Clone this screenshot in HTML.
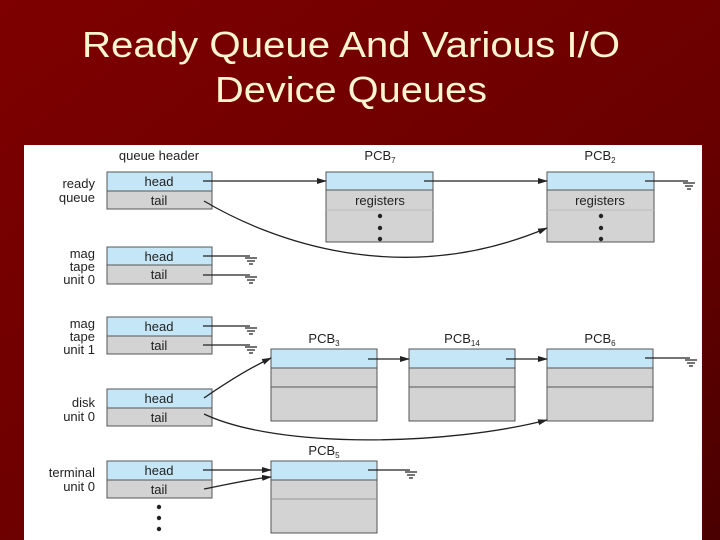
<!DOCTYPE html>
<html><head><meta charset="utf-8"><style>
html,body{margin:0;padding:0;width:720px;height:540px;overflow:hidden;background:#6e0000}
svg{display:block}
</style></head><body>
<svg width="720" height="540" viewBox="0 0 720 540" xmlns="http://www.w3.org/2000/svg" font-family="Liberation Sans, Arial, sans-serif">
<defs>
<linearGradient id="bg" x1="0" y1="0" x2="1" y2="1">
<stop offset="0" stop-color="#7e0000"/><stop offset="0.6" stop-color="#6a0000"/><stop offset="1" stop-color="#4a0000"/>
</linearGradient>
<marker id="ar" markerWidth="10" markerHeight="8" refX="9" refY="4" orient="auto" markerUnits="userSpaceOnUse">
<path d="M0,1 L10,4 L0,7 Z" fill="#222"/></marker>
</defs>
<rect width="720" height="540" fill="url(#bg)"/>
<text x="351" y="57" fill="#fdf5d0" font-size="36" text-anchor="middle" textLength="538" lengthAdjust="spacingAndGlyphs">Ready Queue And Various I/O</text>
<text x="351" y="102" fill="#fdf5d0" font-size="36" text-anchor="middle" textLength="272" lengthAdjust="spacingAndGlyphs">Device Queues</text>
<rect x="24" y="145" width="678" height="395" fill="#fff"/>
<g font-size="13" fill="#222">
<text x="159" y="160" text-anchor="middle">queue header</text>
<text x="380" y="160" text-anchor="middle">PCB<tspan font-size="8" dy="3">7</tspan></text>
<text x="600" y="160" text-anchor="middle">PCB<tspan font-size="8" dy="3">2</tspan></text>
<text x="324" y="343" text-anchor="middle">PCB<tspan font-size="8" dy="3">3</tspan></text>
<text x="462" y="343" text-anchor="middle">PCB<tspan font-size="8" dy="3">14</tspan></text>
<text x="600" y="343" text-anchor="middle">PCB<tspan font-size="8" dy="3">6</tspan></text>
<text x="324" y="455" text-anchor="middle">PCB<tspan font-size="8" dy="3">5</tspan></text>
<g text-anchor="end">
<text x="95" y="188">ready</text><text x="95" y="202">queue</text>
<text x="95" y="258">mag</text><text x="95" y="271">tape</text><text x="95" y="284">unit 0</text>
<text x="95" y="328">mag</text><text x="95" y="341">tape</text><text x="95" y="354">unit 1</text>
<text x="95" y="407">disk</text><text x="95" y="421">unit 0</text>
<text x="95" y="477">terminal</text><text x="95" y="491">unit 0</text>
</g>
</g>
<!-- header boxes -->
<g stroke="#555" stroke-width="1">
<rect x="107" y="172" width="105" height="19" fill="#c5e6f7"/><rect x="107" y="191" width="105" height="18" fill="#d3d3d3"/>
<rect x="107" y="247" width="105" height="18" fill="#c5e6f7"/><rect x="107" y="265" width="105" height="19" fill="#d3d3d3"/>
<rect x="107" y="317" width="105" height="19" fill="#c5e6f7"/><rect x="107" y="336" width="105" height="18" fill="#d3d3d3"/>
<rect x="107" y="389" width="105" height="19" fill="#c5e6f7"/><rect x="107" y="408" width="105" height="18" fill="#d3d3d3"/>
<rect x="107" y="461" width="105" height="19" fill="#c5e6f7"/><rect x="107" y="480" width="105" height="18" fill="#d3d3d3"/>
<!-- PCBs -->
<rect x="326" y="172" width="107" height="70" fill="#d3d3d3"/><rect x="326" y="172" width="107" height="18" fill="#c5e6f7"/><line x1="326" y1="210" x2="433" y2="210" stroke="#bbb"/>
<rect x="547" y="172" width="107" height="70" fill="#d3d3d3"/><rect x="547" y="172" width="107" height="18" fill="#c5e6f7"/><line x1="547" y1="210" x2="654" y2="210" stroke="#bbb"/>
<rect x="271" y="349" width="106" height="72" fill="#d3d3d3"/><rect x="271" y="349" width="106" height="19" fill="#c5e6f7"/><line x1="271" y1="387" x2="377" y2="387"/>
<rect x="409" y="349" width="106" height="72" fill="#d3d3d3"/><rect x="409" y="349" width="106" height="19" fill="#c5e6f7"/><line x1="409" y1="387" x2="515" y2="387"/>
<rect x="547" y="349" width="106" height="72" fill="#d3d3d3"/><rect x="547" y="349" width="106" height="19" fill="#c5e6f7"/><line x1="547" y1="387" x2="653" y2="387"/>
<rect x="271" y="461" width="106" height="72" fill="#d3d3d3"/><rect x="271" y="461" width="106" height="19" fill="#c5e6f7"/><line x1="271" y1="499" x2="377" y2="499" stroke="#999"/>
</g>
<g font-size="13" fill="#222" text-anchor="middle">
<text x="159" y="186">head</text><text x="159" y="205">tail</text>
<text x="159" y="261">head</text><text x="159" y="279">tail</text>
<text x="159" y="331">head</text><text x="159" y="350">tail</text>
<text x="159" y="403">head</text><text x="159" y="422">tail</text>
<text x="159" y="475">head</text><text x="159" y="494">tail</text>
<text x="380" y="205">registers</text><text x="600" y="205">registers</text>
</g>
<g fill="#222"><circle cx="380" cy="216" r="2.2"/><circle cx="380" cy="228" r="2.2"/><circle cx="380" cy="239" r="2.2"/>
<circle cx="601" cy="216" r="2.2"/><circle cx="601" cy="228" r="2.2"/><circle cx="601" cy="239" r="2.2"/>
<circle cx="159" cy="507" r="2.2"/><circle cx="159" cy="518" r="2.2"/><circle cx="159" cy="529" r="2.2"/></g>
<!-- connectors -->
<g stroke="#222" stroke-width="1.3" fill="none">
<line x1="203" y1="181" x2="326" y2="181" marker-end="url(#ar)"/>
<line x1="424" y1="181" x2="547" y2="181" marker-end="url(#ar)"/>
<line x1="645" y1="181" x2="688" y2="181"/>
<path d="M204,201 C270,240 400,290 547,228" marker-end="url(#ar)"/>
<line x1="203" y1="256" x2="250" y2="256"/><line x1="203" y1="275" x2="250" y2="275"/>
<line x1="203" y1="326" x2="250" y2="326"/><line x1="203" y1="345" x2="250" y2="345"/>
<path d="M204,398 C230,380 250,368 271,358" marker-end="url(#ar)"/>
<path d="M204,414 C280,450 450,445 547,420" marker-end="url(#ar)"/>
<line x1="368" y1="359" x2="409" y2="359" marker-end="url(#ar)"/>
<line x1="506" y1="359" x2="547" y2="359" marker-end="url(#ar)"/>
<line x1="645" y1="358" x2="690" y2="358"/>
<line x1="203" y1="470" x2="271" y2="470" marker-end="url(#ar)"/>
<path d="M204,489 C230,484 250,479 271,477" marker-end="url(#ar)"/>
<line x1="368" y1="470" x2="410" y2="470"/>
</g>
<!-- grounds -->
<g stroke="#222" stroke-width="1.3">
<path d="M683,183h12M685,186h8M687,189h4"/>
<path d="M245,258h12M247,261h8M249,264h4"/><path d="M245,277h12M247,280h8M249,283h4"/>
<path d="M245,328h12M247,331h8M249,334h4"/><path d="M245,347h12M247,350h8M249,353h4"/>
<path d="M685,360h12M687,363h8M689,366h4"/>
<path d="M405,472h12M407,475h8M409,478h4"/>
</g>
</svg>
</body></html>
